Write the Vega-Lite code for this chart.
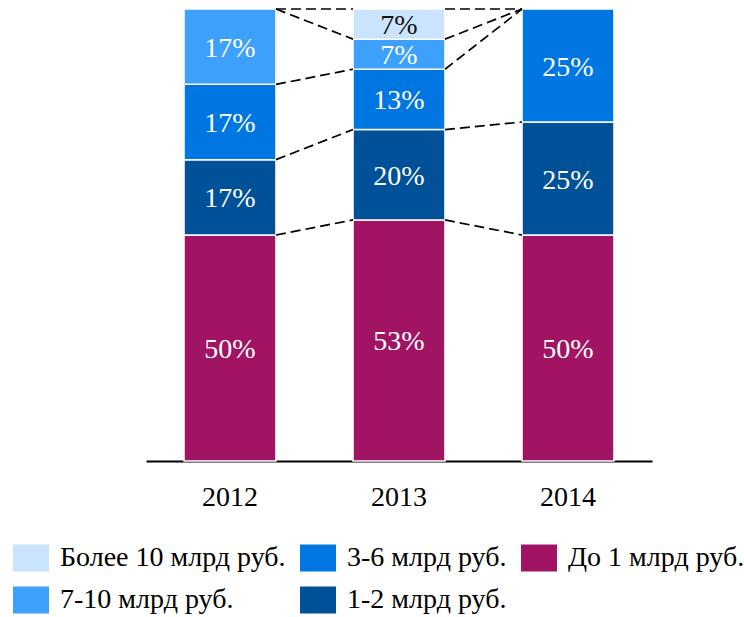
{
  "$schema": "https://vega.github.io/schema/vega-lite/v6.json",
  "autosize": "none",
  "width": 506,
  "height": 452,
  "padding": {"left": 146, "top": 9, "right": 92, "bottom": 156},
  "background": "white",
  "config": {"view": {"stroke": null}, "font": "Liberation Serif"},
  "datasets": {
    "bars": [
      {"year": "2012", "cat": "До 1 млрд руб.", "ord": 1, "value": 50, "label": "50%"},
      {"year": "2012", "cat": "1-2 млрд руб.", "ord": 2, "value": 16.67, "label": "17%"},
      {"year": "2012", "cat": "3-6 млрд руб.", "ord": 3, "value": 16.67, "label": "17%"},
      {"year": "2012", "cat": "7-10 млрд руб.", "ord": 4, "value": 16.66, "label": "17%"},
      {"year": "2013", "cat": "До 1 млрд руб.", "ord": 1, "value": 53.33, "label": "53%"},
      {"year": "2013", "cat": "1-2 млрд руб.", "ord": 2, "value": 20, "label": "20%"},
      {"year": "2013", "cat": "3-6 млрд руб.", "ord": 3, "value": 13.33, "label": "13%"},
      {"year": "2013", "cat": "7-10 млрд руб.", "ord": 4, "value": 6.67, "label": "7%"},
      {"year": "2013", "cat": "Более 10 млрд руб.", "ord": 5, "value": 6.67, "label": "7%"},
      {"year": "2014", "cat": "До 1 млрд руб.", "ord": 1, "value": 50, "label": "50%"},
      {"year": "2014", "cat": "1-2 млрд руб.", "ord": 2, "value": 25, "label": "25%"},
      {"year": "2014", "cat": "3-6 млрд руб.", "ord": 3, "value": 25, "label": "25%"}
    ],
    "conn": [
      {"from": "2012", "to": "2013", "ya": 50, "yb": 53.33},
      {"from": "2012", "to": "2013", "ya": 66.67, "yb": 73.33},
      {"from": "2012", "to": "2013", "ya": 83.33, "yb": 86.67},
      {"from": "2012", "to": "2013", "ya": 100, "yb": 93.33},
      {"from": "2012", "to": "2013", "ya": 100, "yb": 100},
      {"from": "2013", "to": "2014", "ya": 53.33, "yb": 50},
      {"from": "2013", "to": "2014", "ya": 73.33, "yb": 75},
      {"from": "2013", "to": "2014", "ya": 86.67, "yb": 100},
      {"from": "2013", "to": "2014", "ya": 93.33, "yb": 100},
      {"from": "2013", "to": "2014", "ya": 100, "yb": 100}
    ]
  },
  "layer": [
    {
      "data": {"name": "bars"},
      "transform": [
        {"stack": "value", "groupby": ["year"], "sort": [{"field": "ord", "order": "ascending"}], "as": ["y0", "y1"]}
      ],
      "mark": {"type": "bar", "stroke": "white", "strokeWidth": 1.5},
      "encoding": {
        "x": {
          "field": "year", "type": "nominal", "title": null,
          "scale": {"paddingInner": 0.456, "paddingOuter": 0.225},
          "axis": {"labelAngle": 0, "ticks": false, "domainColor": "black", "domainWidth": 2, "labelFont": "Liberation Serif", "labelFontSize": 28, "labelColor": "black", "labelPadding": 22}
        },
        "y": {"field": "y0", "type": "quantitative", "scale": {"domain": [0, 100]}, "axis": null},
        "y2": {"field": "y1"},
        "color": {
          "field": "cat", "type": "nominal", "title": null,
          "scale": {
            "domain": ["Более 10 млрд руб.", "7-10 млрд руб.", "3-6 млрд руб.", "1-2 млрд руб.", "До 1 млрд руб."],
            "range": ["#cbe4fd", "#3da0fb", "#0076e3", "#005197", "#a11463"]
          },
          "legend": {
            "orient": "none", "legendX": -133, "legendY": 531, "columns": 3, "padding": 0,
            "symbolType": "M-1,-0.75H1V0.75H-1Z", "symbolSize": 1296, "symbolStrokeWidth": 0,
            "labelFont": "Liberation Serif", "labelFontSize": 28, "labelColor": "black", "labelLimit": 400,
            "labelOffset": 11, "columnPadding": 14, "rowPadding": 10
          }
        }
      }
    },
    {
      "data": {"name": "bars"},
      "transform": [
        {"stack": "value", "groupby": ["year"], "sort": [{"field": "ord", "order": "ascending"}], "as": ["y0", "y1"]},
        {"calculate": "(datum.y0 + datum.y1) / 2", "as": "ymid"}
      ],
      "mark": {"type": "text", "font": "Liberation Serif", "fontSize": 28, "baseline": "middle", "align": "center", "dy": 2},
      "encoding": {
        "x": {"field": "year", "type": "nominal", "title": null},
        "y": {"field": "ymid", "type": "quantitative"},
        "text": {"field": "label"},
        "color": {
          "condition": {"test": "datum.ord === 5", "value": "#111111"},
          "value": "white"
        }
      }
    },
    {
      "data": {"name": "conn"},
      "mark": {"type": "rule", "stroke": "black", "strokeWidth": 1.7, "strokeDash": [10, 5]},
      "encoding": {
        "x": {"field": "from", "type": "nominal", "bandPosition": 1, "title": null},
        "x2": {"field": "to", "bandPosition": 0},
        "y": {"field": "ya", "type": "quantitative"},
        "y2": {"field": "yb"}
      }
    }
  ]
}
